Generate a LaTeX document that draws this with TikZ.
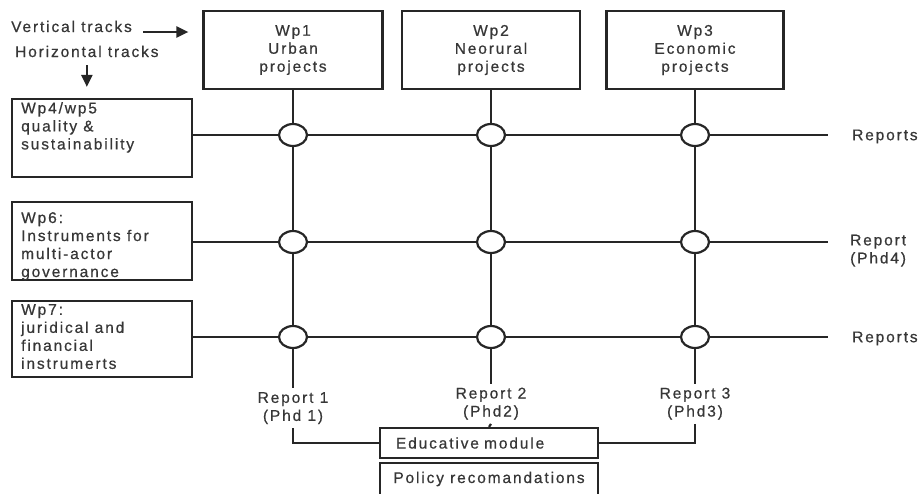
\documentclass[tikz,border=0pt]{standalone}
\usepackage{fontspec}
\setmainfont{Liberation Sans}[LetterSpace=12, FakeBold=0.6]
\usetikzlibrary{shapes.geometric,arrows.meta}

\definecolor{ink}{RGB}{38,38,38}
\definecolor{txtcol}{RGB}{55,55,55}
\newcommand\diagfont{\fontsize{15.5}{18}\selectfont}

\tikzset{
  txt/.style={font=\diagfont, text=txtcol},
  wpbox/.style={txt, draw=ink, line width=2.2pt, inner sep=0pt,
    minimum height=78pt, align=center},
  sidebox/.style={draw=ink, line width=2.2pt, inner sep=0pt,
    minimum width=180pt},
  lbl/.style={txt, inner sep=0pt, align=left},
  replbl/.style={txt, inner xsep=0pt, inner ysep=4pt, align=center, anchor=north},
  cross/.style={ellipse, draw=ink, fill=white, line width=2.2pt,
    minimum width=28pt, minimum height=22pt, inner sep=0pt},
  track/.style={draw=ink, line width=2.2pt},
  arr/.style={track, -{Triangle[length=12pt,width=11pt]}},
  modbox/.style={txt, draw=ink, line width=2.2pt, inner ysep=0pt}
}

\begin{document}
\begin{tikzpicture}[x=1pt, y=-1pt]
\useasboundingbox (0,0) rectangle (921,493);

% vertical tracks (work packages on top)
\node[wpbox, minimum width=179pt] (wp1) at (293,50) {Wp1\\Urban\\projects};
\node[wpbox, minimum width=178pt] (wp2) at (491,50) {Wp2\\Neorural\\projects};
\node[wpbox, minimum width=177pt] (wp3) at (695,50) {Wp3\\Economic\\projects};

% horizontal tracks (work packages on the left)
\node[sidebox, minimum height=78pt] (wp4) at (102,138) {};
\node[sidebox, minimum height=78pt] (wp6) at (102,241) {};
\node[sidebox, minimum height=76pt] (wp7) at (102,339) {};
\node[lbl, anchor=north west] (wp4t) at (21,102) {Wp4/wp5\\quality \&\\sustainability};
\node[lbl, anchor=north west] (wp6t) at (21,212) {Wp6:\\Instruments for\\multi-actor\\governance};
\node[lbl, anchor=north west] (wp7t) at (21,304) {Wp7:\\juridical and\\financial\\instrumerts};

% legend
\node[lbl, anchor=base west] (vt) at (11,32) {Vertical tracks};
\node[lbl, anchor=base west] (ht) at (15,57) {Horizontal tracks};
\draw[arr, shorten <=11pt, shorten >=14pt] (vt.base east) -- (vt.base east -| wp1.west);
\draw[arr, shorten <=8pt, shorten >=11pt] (ht.south) -- (ht.south |- wp4.north);

% crossings
\foreach \c/\x in {1/293, 2/491, 3/695}{
  \node[cross] (c1\c) at (\x,135) {};
  \node[cross] (c2\c) at (\x,242) {};
  \node[cross] (c3\c) at (\x,337) {};
}

% report labels
\coordinate (e1) at (828,135);
\coordinate (e2) at (828,242);
\coordinate (e3) at (828,337);
\node[lbl, anchor=west] (rt1) at (852,136.5) {Reports};
\node[lbl, anchor=north west] (rt2) at (850,234.5) {Report\\(Phd4)};
\node[lbl, anchor=west] (rt3) at (852,338.5) {Reports};

\node[replbl] (rep1) at (293,388) {Report 1\\(Phd 1)};
\node[replbl] (rep2) at (491,383.5) {Report 2\\(Phd2)};
\node[replbl] (rep3) at (695,383.5) {Report 3\\(Phd3)};

% output modules
\node[modbox, text width=186pt, inner xsep=16pt, minimum height=30pt, align=left] (edu) at (489,443) {Educative module};
\node[modbox, minimum width=218pt, minimum height=32pt] (pol) at (489,479) {Policy recomandations};

% horizontal track lines
\draw[track] (wp4.east |- c11) -- (c11) -- (c12) -- (c13) -- (e1);
\draw[track] (wp6.east |- c21) -- (c21) -- (c22) -- (c23) -- (e2);
\draw[track] (wp7.east |- c31) -- (c31) -- (c32) -- (c33) -- (e3);

% vertical track lines
\draw[track] (wp1) -- (c11) -- (c21) -- (c31) -- (rep1);
\draw[track] (wp2) -- (c12) -- (c22) -- (c32) -- (rep2);
\draw[track] (wp3) -- (c13) -- (c23) -- (c33) -- (rep3);

% reports feeding the educative module
\draw[track] (rep1.south) |- (edu.west);
\draw[track] (rep2.south) -- (edu.north);
\draw[track] (rep3.south) |- (edu.east);
\end{tikzpicture}
\end{document}
